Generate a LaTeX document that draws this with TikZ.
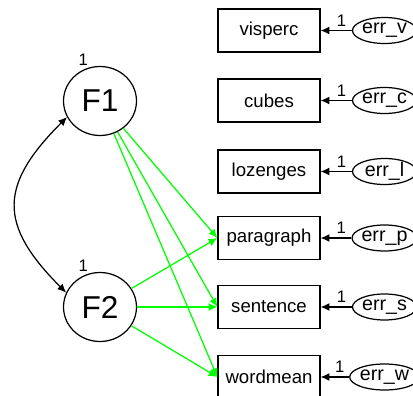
\documentclass[tikz,border=0pt]{standalone}
\usepackage{fontspec}
\setmainfont{Liberation Sans}
\usetikzlibrary{arrows.meta}
\usetikzlibrary{shapes.geometric, math}

\begin{document}
\begin{tikzpicture}[x=0.02cm, y=-0.02cm, line width=0.7pt,
  >={Latex[length=5pt,width=4.5pt]},
  obs/.style={draw, minimum width=2.04cm, minimum height=0.86cm, inner sep=0pt, font=\fontsize{10.6}{12}\selectfont},
  err/.style={draw, ellipse, minimum width=1.28cm, minimum height=0.52cm, inner sep=0pt, font=\fontsize{11.2}{13}\selectfont},
  lat/.style={draw, ellipse, minimum width=1.46cm, minimum height=1.38cm, inner sep=0pt, font=\fontsize{18}{20}\selectfont},
  lab/.style={inner sep=2pt, font=\fontsize{9.5}{11}\selectfont},
  load/.style={->, draw=green, fill=green},
]
\tikzmath{
\xo=269;
\xe=384.5;
\xf=100;
}
\useasboundingbox (0,0) rectangle (413,396);

\node[lat] (F1) at (\xf,101) {F1};
\node[lat] (F2) at (\xf,307) {F2};
\node[lab, anchor=south] (vF1) at (F1.118) {1};
\node[lab, anchor=south] (vF2) at (F2.118) {1};

\node[obs] (visperc) at (\xo,30.5) {visperc};
\node[obs] (cubes) at (\xo,100.5) {cubes};
\node[obs] (lozenges) at (\xo,171.5) {lozenges};
\node[obs] (paragraph) at (\xo,238) {paragraph};
\node[obs] (sentence) at (\xo,307) {sentence};
\node[obs] (wordmean) at (\xo,377) {wordmean};

\node[err] (errv) at (\xe,30.5) {err\_v};
\node[err] (errc) at (\xe,100.5) {err\_c};
\node[err] (errl) at (\xe,171.5) {err\_l};
\node[err] (errp) at (\xe,238) {err\_p};
\node[err] (errs) at (\xe,307) {err\_s};
\node[err] (errw) at (\xe,377) {err\_w};

\draw[->] (errv) -- (visperc) node[lab, pos=0.33, above]{1};
\draw[->] (errc) -- (cubes) node[lab, pos=0.33, above]{1};
\draw[->] (errl) -- (lozenges) node[lab, pos=0.33, above]{1};
\draw[->] (errp) -- (paragraph) node[lab, pos=0.33, above]{1};
\draw[->] (errs) -- (sentence) node[lab, pos=0.33, above]{1};
\draw[->] (errw) -- (wordmean) node[lab, pos=0.33, above]{1};

\draw[load] (F1) -- (paragraph.west);
\draw[load] (F1) -- (sentence.west);
\draw[load] (F1) -- (wordmean.west);
\draw[load] (F2) -- (paragraph.west);
\draw[load] (F2) -- (sentence.west);
\draw[load] (F2) -- (wordmean.west);

\draw[<->] (F1.206) to[out=225, in=135, looseness=1.4] (F2.157);

\end{tikzpicture}
\end{document}
